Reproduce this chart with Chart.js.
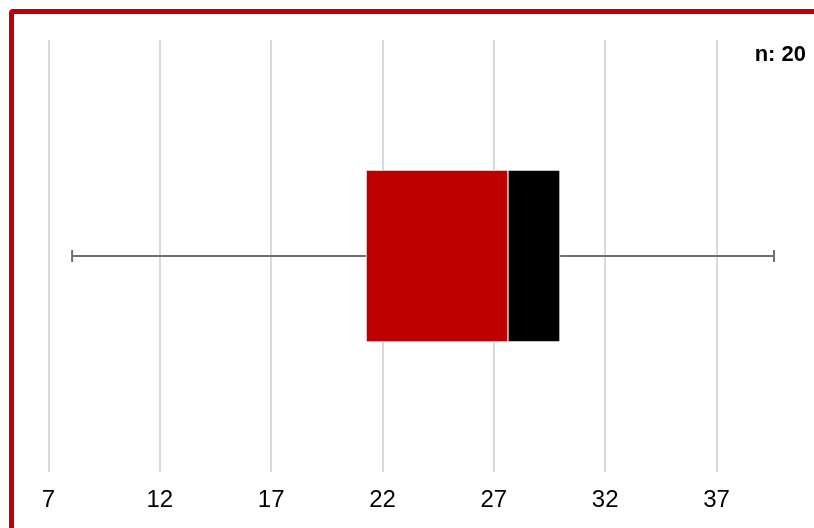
<!DOCTYPE html>
<html>
<head>
<meta charset="utf-8">
<script src="https://cdn.jsdelivr.net/npm/chart.js@4/dist/chart.umd.min.js"></script>
<style>
  html, body { margin: 0; padding: 0; background: #fff; overflow: hidden; }
  #frame { position: absolute; left: 9px; top: 9px; width: 900px; height: 600px;
           border: 5px solid #c00000; border-top-left-radius: 4px; box-sizing: border-box; }
  #wrap { position: absolute; left: 0; top: 0; width: 814px; height: 528px; }
</style>
</head>
<body>
<div id="frame"></div>
<div id="wrap"><canvas id="c" width="814" height="528"></canvas></div>
<script>
const categories = ['Sample'];
const minValues = [8.06];
const q1Values = [21.26];
const medianValues = [27.63];
const q3Values = [29.97];
const maxValues = [39.58];
const sampleSizes = [20];
const tickValues = [7, 12, 17, 22, 27, 32, 37];

const whiskerPlugin = {
  id: 'whiskers',
  beforeDatasetsDraw(chart) {
    const ctx = chart.ctx;
    const xs = chart.scales.x, ys = chart.scales.y;
    ctx.save();
    ctx.strokeStyle = '#707070';
    ctx.lineWidth = 2;
    categories.forEach((cat, i) => {
      const y = ys.getPixelForValue(i);
      const xMin = xs.getPixelForValue(minValues[i]);
      const xQ1 = xs.getPixelForValue(q1Values[i]);
      const xQ3 = xs.getPixelForValue(q3Values[i]);
      const xMax = xs.getPixelForValue(maxValues[i]);
      ctx.beginPath();
      ctx.moveTo(xMin, y); ctx.lineTo(xQ1, y);
      ctx.moveTo(xQ3, y); ctx.lineTo(xMax, y);
      ctx.moveTo(xMin, y - 6); ctx.lineTo(xMin, y + 6);
      ctx.moveTo(xMax, y - 6); ctx.lineTo(xMax, y + 6);
      ctx.stroke();
    });
    ctx.restore();
  },
  afterDraw(chart) {
    const ctx = chart.ctx;
    ctx.save();
    ctx.fillStyle = '#000';
    ctx.font = 'bold 22px "Liberation Sans", Arial, sans-serif';
    ctx.textAlign = 'right';
    ctx.textBaseline = 'middle';
    ctx.fillText('n: ' + sampleSizes[0], 806, 55);
    ctx.restore();
  }
};

new Chart(document.getElementById('c'), {
  type: 'bar',
  data: {
    labels: categories,
    datasets: [
      {
        label: 'Q1-Median',
        data: categories.map((c, i) => [q1Values[i], medianValues[i]]),
        backgroundColor: '#c00000',
        borderColor: '#ffffff',
        borderWidth: 1,
        borderSkipped: false
      },
      {
        label: 'Median-Q3',
        data: categories.map((c, i) => [medianValues[i], q3Values[i]]),
        backgroundColor: '#000000',
        borderColor: '#ffffff',
        borderWidth: 1,
        borderSkipped: false
      }
    ]
  },
  options: {
    indexAxis: 'y',
    responsive: false,
    animation: false,
    grouped: false,
    barThickness: 172,
    layout: { padding: { left: 48.5, right: 19.5, top: 40, bottom: 0 } },
    plugins: { legend: { display: false }, tooltip: { enabled: false } },
    scales: {
      x: {
        type: 'linear',
        min: 7,
        max: 40.5,
        afterBuildTicks(scale) { scale.ticks = tickValues.map(v => ({ value: v })); },
        afterFit(scale) { scale.height = 56; },
        grid: { color: '#d9d9d9', lineWidth: 2, drawTicks: false },
        border: { display: false },
        ticks: {
          padding: 14,
          color: '#000',
          font: { family: '"Liberation Sans", Arial, sans-serif', size: 24 },
          maxRotation: 0
        }
      },
      y: { display: false }
    }
  },
  plugins: [whiskerPlugin]
});
</script>
</body>
</html>
